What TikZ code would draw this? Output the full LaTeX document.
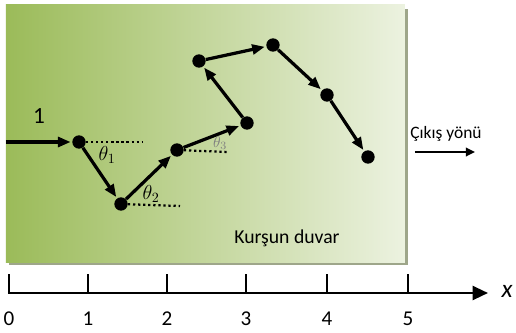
\documentclass[tikz,border=0pt]{standalone}
\usepackage{amsmath}
\usepackage{fontspec}
\setmainfont{Carlito}
\usetikzlibrary{arrows.meta}
\definecolor{wallgreen}{RGB}{155,187,89}
\definecolor{wallpale}{RGB}{236,242,224}
\definecolor{wallshadow}{RGB}{158,166,138}
\begin{document}
\begin{tikzpicture}[x=0.025cm,y=-0.025cm,>={Triangle[length=9pt,width=7pt]},
 dot/.style={circle,fill=black,inner sep=0pt,minimum size=9.5pt},
 hop/.style={->,line width=2.3pt,shorten >=1pt},
 ref/.style={dotted,line width=1.6pt},
 ang/.style={font=\fontsize{14}{16}\selectfont},
 tick/.style={line width=1.4pt}]
\useasboundingbox(0,0)rectangle(516,332);
% lead wall
\fill[wallshadow](9,9)rectangle(408,265);
\shade[left color=wallgreen,right color=wallpale](6,4)rectangle(405,262);
\node[font=\fontsize{14}{16}\selectfont](wall)at(287,238){Kurşun duvar};
% path of the particle
\coordinate(in)at(6,142);
\node[dot](p1)at(79,142){};
\node[dot](p2)at(121,204){};
\node[dot](p3)at(177,150){};
\node[dot](p4)at(247,123){};
\node[dot](p5)at(199,61){};
\node[dot](p6)at(273,45){};
\node[dot](p7)at(327,95){};
\node[dot](p8)at(368,157){};
\draw[hop](in)--(p1);
\foreach \a/\b in {p1/p2,p2/p3,p3/p4,p4/p5,p5/p6,p6/p7,p7/p8}
 \draw[hop](\a)--(\b);
\node[font=\fontsize{16.5}{18}\selectfont](one)at(39,116){1};
% reference lines and angles
\coordinate(r1)at(143,142);
\coordinate(r2)at(180,206);
\coordinate(r3)at(228,152);
\draw[ref](p1)--(r1);
\draw[ref](p2)--(r2);
\draw[ref](p3)--(r3);
\node[ang](t1)at(107,155){$\theta_1$};
\node[ang](t2)at(151,194){$\theta_2$};
\node[gray,font=\fontsize{11}{13}\selectfont](t3)at(220,143){$\theta_3$};
% exit direction
\node[font=\fontsize{12.4}{14}\selectfont](exit)at(446,134){Çıkış yönü};
\coordinate(e1)at(415,152);
\coordinate(e2)at(475,152);
\draw[->,line width=1.6pt,>={Triangle[length=6.5pt,width=6pt]}](e1)--(e2);
% x axis
\coordinate(o)at(8,293);
\coordinate(xend)at(488,293);
\draw[->,line width=1.7pt,>={Triangle[length=11pt,width=10pt]}](o)--(xend);
\node[font=\itshape\fontsize{18}{20}\selectfont](xlab)at(507,291){x};
\foreach \i/\px in {0/9,1/88,2/167,3/246,4/327,5/408}{
 \draw[tick](\px,293)--(\px,274);
 \node[anchor=base,inner sep=0pt,font=\fontsize{15}{17}\selectfont](n\i)at(\px,325){\i};}
\end{tikzpicture}
\end{document}
